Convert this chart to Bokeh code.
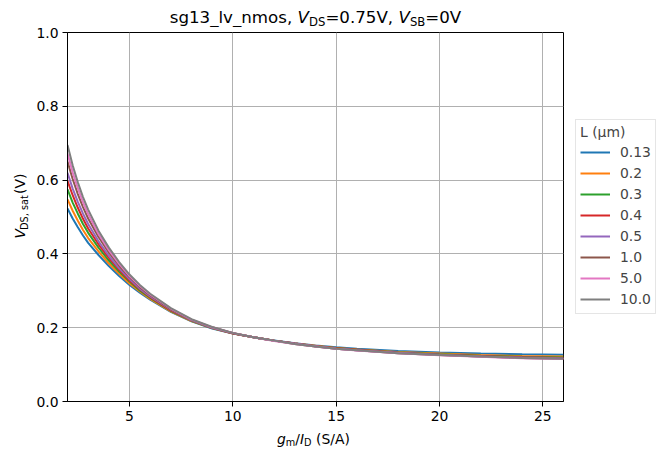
import math
from bokeh.plotting import figure
from bokeh.layouts import column, row
from bokeh.models import (ColumnDataSource, Legend, LegendItem, Label, FixedTicker,
                          NumeralTickFormatter, Range1d)
from bokeh.embed import file_html
from bokeh.resources import INLINE

# ---------------- data ----------------
x_gmid = [2, 2.25, 2.5, 2.75, 3, 3.5, 4, 4.5, 5, 5.5, 6, 7, 8, 9, 10, 11, 12, 13, 14, 15, 16, 18, 20, 22, 24, 26]

vdsat_L013 = [0.523, 0.496, 0.472, 0.450, 0.430, 0.397, 0.367, 0.340, 0.316, 0.295, 0.276, 0.243, 0.217, 0.198,
              0.184, 0.174, 0.165, 0.158, 0.152, 0.147, 0.143, 0.137, 0.133, 0.130, 0.128, 0.127]
vdsat_L02 = [0.548, 0.517, 0.490, 0.465, 0.443, 0.407, 0.374, 0.346, 0.320, 0.298, 0.278, 0.244, 0.218, 0.199,
             0.184, 0.174, 0.165, 0.157, 0.151, 0.145, 0.141, 0.134, 0.130, 0.126, 0.123, 0.122]
vdsat_L03 = [0.575, 0.539, 0.509, 0.481, 0.457, 0.417, 0.382, 0.352, 0.325, 0.301, 0.281, 0.246, 0.219, 0.199,
             0.185, 0.174, 0.165, 0.157, 0.150, 0.144, 0.140, 0.133, 0.128, 0.124, 0.121, 0.119]
vdsat_L04 = [0.598, 0.559, 0.525, 0.495, 0.469, 0.426, 0.389, 0.357, 0.328, 0.304, 0.283, 0.247, 0.220, 0.200,
             0.185, 0.174, 0.165, 0.157, 0.150, 0.144, 0.140, 0.132, 0.127, 0.123, 0.120, 0.118]
vdsat_L05 = [0.620, 0.577, 0.541, 0.509, 0.481, 0.434, 0.395, 0.361, 0.332, 0.306, 0.285, 0.249, 0.220, 0.200,
             0.185, 0.174, 0.165, 0.157, 0.150, 0.143, 0.139, 0.132, 0.127, 0.122, 0.119, 0.117]
vdsat_L1 = [0.650, 0.603, 0.562, 0.527, 0.496, 0.446, 0.404, 0.368, 0.337, 0.310, 0.288, 0.250, 0.221, 0.201,
            0.185, 0.174, 0.165, 0.156, 0.149, 0.143, 0.139, 0.131, 0.126, 0.122, 0.118, 0.116]
vdsat_L5 = [0.672, 0.621, 0.578, 0.540, 0.508, 0.454, 0.410, 0.373, 0.340, 0.313, 0.290, 0.252, 0.222, 0.201,
            0.186, 0.174, 0.164, 0.156, 0.149, 0.143, 0.138, 0.131, 0.125, 0.121, 0.117, 0.115]
vdsat_L10 = [0.695, 0.640, 0.594, 0.554, 0.520, 0.463, 0.417, 0.378, 0.344, 0.316, 0.292, 0.253, 0.223, 0.202,
             0.186, 0.174, 0.165, 0.156, 0.149, 0.143, 0.139, 0.131, 0.126, 0.122, 0.118, 0.116]

L_labels = ["0.13", "0.2", "0.3", "0.4", "0.5", "1.0", "5.0", "10.0"]
series = [vdsat_L013, vdsat_L02, vdsat_L03, vdsat_L04, vdsat_L05, vdsat_L1, vdsat_L5, vdsat_L10]
colors = ["#1f77b4", "#ff7f0e", "#2ca02c", "#d62728", "#9467bd", "#8c564b", "#e377c2", "#7f7f7f"]

x_ticks = [5, 10, 15, 20, 25]
y_ticks = [0.0, 0.2, 0.4, 0.6, 0.8, 1.0]

FONT = "DejaVu Sans"
FS = "13.9px"
SUB = "9.73px"

W, H = 663, 458
TOP_H = 27          # title strip height
LEFT_W = 33         # y-label strip width
BOT_H = 30          # x-label strip height
FR_W, FR_H = 496, 369
B_LEFT, B_RIGHT, B_TOP, B_BOT = 32, 102, 5, 27
MAIN_H = B_TOP + FR_H + B_BOT  # 401


def blank(width, height):
    f = figure(width=width, height=height, output_backend="svg", toolbar_location=None,
               title=None, x_axis_type=None, y_axis_type=None,
               x_range=Range1d(0, width), y_range=Range1d(0, height),
               min_border_left=0, min_border_right=0, min_border_top=0, min_border_bottom=0)
    f.outline_line_color = None
    f.background_fill_color = "white"
    f.border_fill_color = "white"
    return f


def lab(fig, text, x, y, size, style="normal", angle=0.0):
    fig.add_layout(Label(x=x, y=y, text=text, text_font=FONT, text_font_size=size,
                         text_font_style=style, text_color="black", text_align="left",
                         text_baseline="alphabetic", angle=angle))


# ---------------- title strip ----------------
tfig = blank(W, TOP_H)
T, TS = "16.67px", "11.67px"
tb = 10.0
ts = 6.0
lab(tfig, "sg13_lv_nmos,", 169.2, tb, T)
lab(tfig, "V", 297.1, tb, T, "italic")
lab(tfig, "DS", 308.5, ts, TS)
lab(tfig, "=0.75V,", 324.9, tb, T)
lab(tfig, "V", 398.0, tb, T, "italic")
lab(tfig, "SB", 409.4, ts, TS)
lab(tfig, "=0V", 424.8, tb, T)

# ---------------- y label strip ----------------
yfig = blank(LEFT_W, MAIN_H)
yb = 19.75
lab(yfig, "V", yb, 177.0, FS, "italic", angle=math.pi / 2)
lab(yfig, "DS, sat", 23.9, 186.5, SUB, angle=math.pi / 2)
lab(yfig, "(V)", yb, 225.6, FS, angle=math.pi / 2)

# ---------------- x label strip ----------------
xfig = blank(W, BOT_H)
xb = 19.75
xs = 15.6
lab(xfig, "g", 276.5, xb, FS, "italic")
lab(xfig, "m", 285.3, xs, SUB)
lab(xfig, "/", 294.8, xb, FS)
lab(xfig, "I", 299.5, xb, FS, "italic")
lab(xfig, "D", 303.6, xs, SUB)
lab(xfig, "(S/A)", 315.5, xb, FS)

# ---------------- main plot ----------------
p = figure(frame_width=FR_W, frame_height=FR_H, output_backend="svg", toolbar_location=None,
           title=None, x_range=Range1d(2, 26), y_range=Range1d(0, 1),
           min_border_left=B_LEFT, min_border_right=B_RIGHT,
           min_border_top=B_TOP, min_border_bottom=B_BOT)
p.background_fill_color = "white"
p.border_fill_color = "white"
p.outline_line_color = "black"
p.outline_line_width = 1

for ax in (p.xaxis[0], p.yaxis[0]):
    ax.axis_line_color = "black"
    ax.axis_line_width = 1
    ax.major_tick_line_color = "black"
    ax.major_tick_line_width = 1
    ax.major_tick_in = 0
    ax.major_tick_out = 5
    ax.minor_tick_line_color = None
    ax.major_label_standoff = 4
    ax.major_label_text_font = FONT
    ax.major_label_text_font_size = FS
    ax.major_label_text_color = "black"

p.xaxis.ticker = FixedTicker(ticks=x_ticks)
p.yaxis.ticker = FixedTicker(ticks=y_ticks)
p.yaxis.formatter = NumeralTickFormatter(format="0.0")

for g in (p.xgrid[0], p.ygrid[0]):
    g.grid_line_color = "#b0b0b0"
    g.grid_line_width = 1
    g.grid_line_alpha = 1.0
p.xgrid.ticker = FixedTicker(ticks=x_ticks)
p.ygrid.ticker = FixedTicker(ticks=y_ticks)

items = []
for lbl, ys, c in zip(L_labels, series, colors):
    src = ColumnDataSource(dict(x=x_gmid, y=ys))
    r = p.line("x", "y", source=src, line_color=c, line_width=2)
    items.append(LegendItem(label=lbl, renderers=[r]))

legend = Legend(items=items, location=(12, 87))
legend.title = "L (\u03bcm)"
legend.title_text_font = FONT
legend.title_text_font_size = FS
legend.title_text_font_style = "normal"
legend.title_standoff = 2
legend.label_text_font = FONT
legend.label_text_font_size = FS
legend.glyph_width = 30
legend.glyph_height = 20
legend.label_height = 20
legend.label_standoff = 10
legend.spacing = 1
legend.padding = 4
legend.margin = 0
legend.border_line_color = "#cccccc"
legend.border_line_width = 1
legend.background_fill_color = "white"
legend.background_fill_alpha = 0.8
p.add_layout(legend, "right")

layout = column(tfig, row(yfig, p, spacing=0), xfig, spacing=0)

open("out.html", "w").write(file_html(layout, INLINE))
